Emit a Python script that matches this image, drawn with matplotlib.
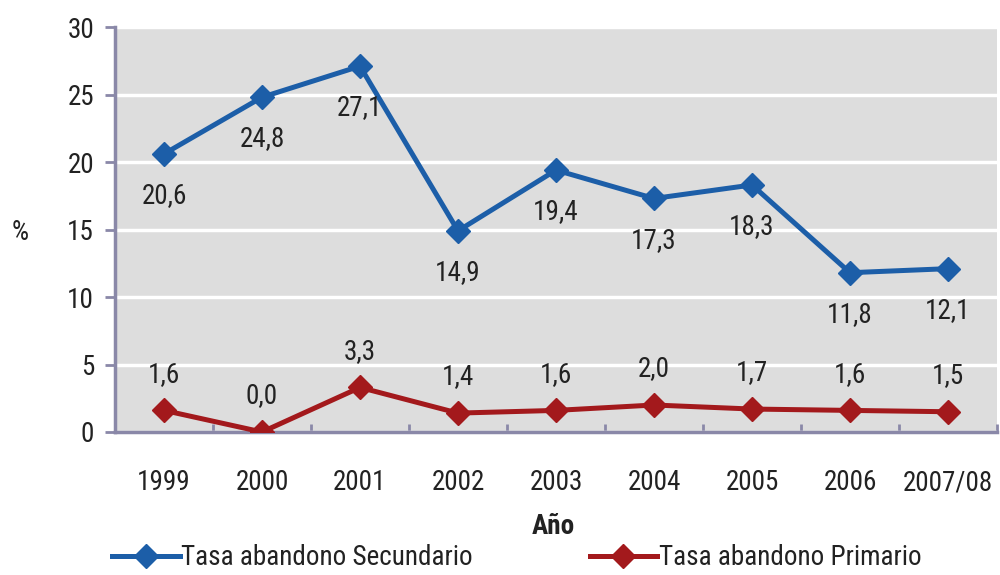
import matplotlib
matplotlib.use('Agg')
import matplotlib.pyplot as plt
from matplotlib.lines import Line2D

years = ['1999', '2000', '2001', '2002', '2003', '2004', '2005', '2006', '2007/08']
secundario = [20.6, 24.8, 27.1, 14.9, 19.4, 17.3, 18.3, 11.8, 12.1]
primario = [1.6, 0.0, 3.3, 1.4, 1.6, 2.0, 1.7, 1.6, 1.5]
yticks = [0, 5, 10, 15, 20, 25, 30]

plt.rcParams['font.family'] = ['Roboto Condensed', 'Roboto', 'DejaVu Sans']
plt.rcParams['font.stretch'] = 'condensed'

BLUE = '#1c5ea8'
RED = '#a3191c'
AXIS = '#8a88a8'
TXT = '#222222'
FS = 19.5

fig = plt.figure(figsize=(10, 5.75), dpi=100)
ax = fig.add_axes([0.115, 0.2487, 0.882, 0.7043])
ax.set_facecolor('#dddddd')

x = list(range(len(years)))
ax.plot(x, secundario, color=BLUE, lw=3.6, marker='D', ms=12, zorder=3)
ax.plot(x, primario, color=RED, lw=3.6, marker='D', ms=12, zorder=3)

for i, v in enumerate(secundario):
    ax.annotate(f'{v:.1f}'.replace('.', ','), (i, v), xytext=(0, -30),
                textcoords='offset points', ha='center', va='center', fontsize=FS, color=TXT)
for i, v in enumerate(primario):
    ax.annotate(f'{v:.1f}'.replace('.', ','), (i, v), xytext=(0, 26),
                textcoords='offset points', ha='center', va='center', fontsize=FS, color=TXT)

ax.set_xlim(-0.5, 8.5)
ax.set_ylim(0, 30)
ax.set_yticks(yticks)
ax.set_yticklabels([str(t) for t in yticks], fontsize=FS, color=TXT)
ax.yaxis.grid(True, color='white', lw=2.5)
ax.set_axisbelow(True)

ax.set_xticks([i - 0.5 for i in range(len(years) + 1)])
ax.set_xticklabels([])
ax.set_xticks(x, minor=True)
ax.set_xticklabels(years, minor=True, fontsize=FS, color=TXT)
ax.tick_params(axis='x', which='minor', length=0, pad=27)
ax.tick_params(axis='x', which='major', direction='in', length=6, width=2, color=AXIS)
ax.tick_params(axis='y', direction='out', length=7, width=2, color=AXIS, pad=8)

for s in ['top', 'right']:
    ax.spines[s].set_visible(False)
for s in ['left', 'bottom']:
    ax.spines[s].set_color(AXIS)
    ax.spines[s].set_linewidth(2.5)

ax.set_xlabel('Año', fontsize=FS, fontweight='bold', color=TXT)
ax.xaxis.set_label_coords(0.497, -0.2)
fig.text(0.012, 0.595, '%', fontsize=FS, va='center', ha='left', color=TXT)

handles = [Line2D([], [], color=BLUE, lw=3.6, marker='D', ms=12),
           Line2D([], [], color=RED, lw=3.6, marker='D', ms=12)]
fig.legend(handles, ['Tasa abandono Secundario', 'Tasa abandono Primario'],
           loc='lower left', bbox_to_anchor=(0.088, -0.036), ncol=2, frameon=False,
           fontsize=FS, handlelength=2.5, handletextpad=0.05, columnspacing=4.3,
           labelcolor=TXT)

fig.savefig('out.png', dpi=100)
